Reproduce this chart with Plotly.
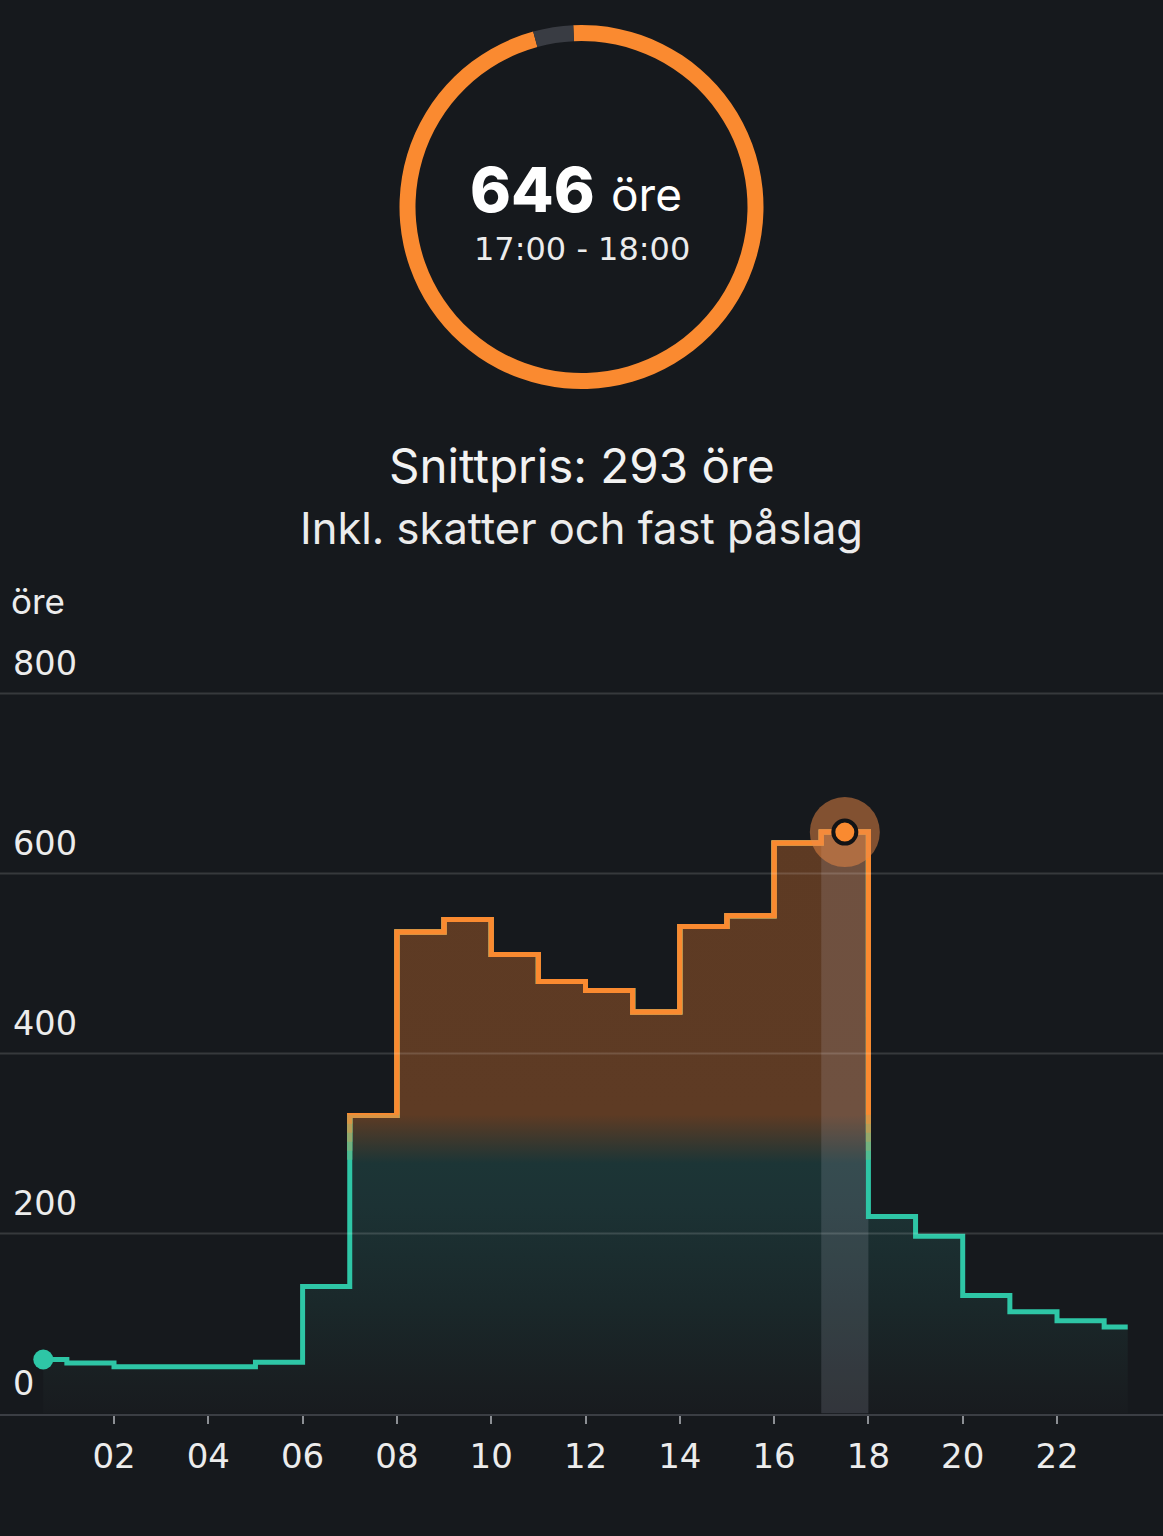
import plotly.graph_objects as go

# ---------------- data ----------------
HOURS = list(range(24))
PRICES = [60, 56, 52, 52, 52, 57, 141, 331, 535, 549, 510, 480,
          470, 446, 541, 553, 634, 646, 219, 197, 131, 113, 103, 96]
X_TICKS = [2, 4, 6, 8, 10, 12, 14, 16, 18, 20, 22]
X_TICK_LABELS = ["02", "04", "06", "08", "10", "12", "14", "16", "18", "20", "22"]
Y_TICKS = [0, 200, 400, 600, 800]
Y_UNIT = "öre"
CURRENT_HOUR = 17
CURRENT_PRICE = 646
CURRENT_LABEL = "17:00 - 18:00"
AVG_PRICE = 293
GAUGE_MAX = 680
AVG_TEXT = "Snittpris: 293 öre"
SUB_TEXT = "Inkl. skatter och fast påslag"

# ---------------- style ----------------
W, H = 1163, 1536
BG = "#16191d"
ORANGE = "#fa8a30"
TEAL = "#2ec6a6"
RING_GRAY = "#393c43"
TXT = "#ececec"
TFONT = "Inter"
NFONT = "DejaVu Sans"

Z_PX = 1413.5      # pixel of value 0
S = 0.9            # px per öre
YMAX = 860
D0 = (H - Z_PX) / H
D1 = (H - (Z_PX - YMAX * S)) / H
X0_PX, PX_PER_H = 19.7, 47.15
XL = -X0_PX / PX_PER_H
XR = (W - X0_PX) / PX_PER_H

x_mid = [h + 0.5 for h in HOURS]


def lerp(c1, c2, t):
    a = [int(c1[i:i + 2], 16) for i in (1, 3, 5)]
    b = [int(c2[i:i + 2], 16) for i in (1, 3, 5)]
    return "rgb(%d,%d,%d)" % tuple(round(a[i] + (b[i] - a[i]) * t) for i in range(3))


GS = 660.0
FILL_SCALE = [
    [0.0, "#181b1f"],
    [30 / GS, "#191e21"],
    [120 / GS, "#1a282a"],
    [230 / GS, "#1c3234"],
    [278 / GS, "#1c3536"],
    [305 / GS, "#3d382d"],
    [332 / GS, "#5e3b24"],
    [1.0, "#5d3a23"],
]

fig = go.Figure()

# gradient fill
fig.add_trace(go.Scatter(
    x=x_mid, y=PRICES, mode="lines",
    line=dict(shape="hvh", width=0, color="rgba(0,0,0,0)"),
    fill="tozeroy",
    fillgradient=dict(type="vertical", colorscale=FILL_SCALE, start=0, stop=GS),
    hoverinfo="skip", showlegend=False))

# highlighted hour column
fig.add_trace(go.Scatter(
    x=[CURRENT_HOUR, CURRENT_HOUR, CURRENT_HOUR + 1, CURRENT_HOUR + 1],
    y=[0, CURRENT_PRICE, CURRENT_PRICE, 0],
    mode="lines", line=dict(width=0), fill="toself",
    fillcolor="rgba(235,235,255,0.13)", hoverinfo="skip", showlegend=False))

# base teal step line
fig.add_trace(go.Scatter(
    x=x_mid, y=PRICES, mode="lines",
    line=dict(shape="hvh", width=5, color=TEAL),
    hoverinfo="skip", showlegend=False))

# start dot
fig.add_trace(go.Scatter(
    x=[x_mid[0]], y=[PRICES[0]], mode="markers",
    marker=dict(size=20, color=TEAL), hoverinfo="skip", showlegend=False))

# colour bands (clipped by separate y axes) -> teal to orange transition
BANDS = [282, 292, 302, 312, 322, 332]
layout_axes = {}
for k, t in enumerate(BANDS):
    name = "y%d" % (k + 2)
    col = lerp(TEAL, ORANGE, (k + 1) / len(BANDS))
    fig.add_trace(go.Scatter(
        x=x_mid, y=PRICES, mode="lines", yaxis=name,
        line=dict(shape="hvh", width=5, color=col),
        hoverinfo="skip", showlegend=False))
    layout_axes["yaxis%d" % (k + 2)] = dict(
        domain=[D0 + (t / YMAX) * (D1 - D0), D1], range=[t, YMAX],
        visible=False, anchor="x", fixedrange=True)

TOP_AX = "y%d" % (len(BANDS) + 1)
cx = CURRENT_HOUR + 0.5
fig.add_trace(go.Scatter(
    x=[cx], y=[CURRENT_PRICE], mode="markers", yaxis=TOP_AX,
    marker=dict(size=70, color="rgba(238,138,70,0.5)", line=dict(width=0)),
    hoverinfo="skip", showlegend=False))
fig.add_trace(go.Scatter(
    x=[cx], y=[CURRENT_PRICE], mode="markers", yaxis=TOP_AX,
    marker=dict(size=23, color=ORANGE, line=dict(width=4, color="#121316")),
    hoverinfo="skip", showlegend=False))

# gauge ring
CAP = 2.6
frac = CURRENT_PRICE / GAUGE_MAX
orange_deg = frac * 360 + 2 * CAP
R = 182
CX, CY = 581.5, 207
fig.add_trace(go.Pie(
    values=[orange_deg, 360 - orange_deg],
    marker=dict(colors=[ORANGE, RING_GRAY], line=dict(width=0)),
    hole=(R - 16) / R, sort=False, direction="clockwise", rotation=-CAP,
    textinfo="none", hoverinfo="skip", showlegend=False,
    domain=dict(x=[(CX - R) / W, (CX + R) / W], y=[1 - (CY + R) / H, 1 - (CY - R) / H])))

shapes = []
for v in Y_TICKS:
    if v == 0:
        continue
    shapes.append(dict(type="line", xref="paper", x0=0, x1=1, yref="y", y0=v, y1=v,
                       line=dict(color="rgba(255,255,255,0.14)", width=2), layer="above"))

ann = []
for v in Y_TICKS:
    ann.append(dict(text=str(v), xref="paper", x=0, xanchor="left", xshift=11,
                    yref="y", y=v, yanchor="bottom", yshift=9, showarrow=False,
                    font=dict(family=NFONT, size=33.5, color=TXT)))
ann.append(dict(text=Y_UNIT, xref="paper", x=0, xanchor="left", xshift=9,
                yref="paper", y=1 - 601 / H, yanchor="middle", showarrow=False,
                font=dict(family=TFONT, size=35, color=TXT)))
ann.append(dict(text="%d" % CURRENT_PRICE, xref="paper", x=597 / W, xanchor="right",
                yref="paper", y=1 - 189 / H, yanchor="middle", showarrow=False,
                font=dict(family=TFONT, size=62, color="#ffffff", weight=800)))
ann.append(dict(text=Y_UNIT, xref="paper", x=609 / W, xanchor="left",
                yref="paper", y=1 - 194 / H, yanchor="middle", showarrow=False,
                font=dict(family=TFONT, size=46, color="#ffffff")))
ann.append(dict(text=CURRENT_LABEL, xref="paper", x=CX / W, xanchor="center",
                yref="paper", y=1 - 249 / H, yanchor="middle", showarrow=False,
                font=dict(family=NFONT, size=32, color=TXT)))
ann.append(dict(text=AVG_TEXT, xref="paper", x=CX / W, xanchor="center",
                yref="paper", y=1 - 465 / H, yanchor="middle", showarrow=False,
                font=dict(family=TFONT, size=47.5, color="#f2f2f2")))
ann.append(dict(text=SUB_TEXT, xref="paper", x=CX / W, xanchor="center",
                yref="paper", y=1 - 528 / H, yanchor="middle", showarrow=False,
                font=dict(family=TFONT, size=43.5, color=TXT)))

fig.update_layout(
    width=W, height=H, margin=dict(l=0, r=0, t=0, b=0, pad=0),
    paper_bgcolor=BG, plot_bgcolor="rgba(0,0,0,0)", showlegend=False,
    xaxis=dict(range=[XL, XR], domain=[0, 1], anchor="y",
               tickvals=X_TICKS, ticktext=X_TICK_LABELS,
               ticks="outside", ticklen=8, tickwidth=2, tickcolor="#8c8f94",
               showline=True, linecolor="#3b3e44", linewidth=2,
               showgrid=False, zeroline=False, fixedrange=True,
               ticklabelstandoff=4,
               tickfont=dict(family=NFONT, size=34, color=TXT)),
    yaxis=dict(domain=[D0, D1], range=[0, YMAX], showgrid=False, zeroline=False,
               showticklabels=False, showline=False, fixedrange=True),
    shapes=shapes, annotations=ann,
    **layout_axes)

fig.write_html("out.html", config={"displayModeBar": False},
               post_script="document.body.style.margin='0';document.body.style.background='%s';" % BG)
